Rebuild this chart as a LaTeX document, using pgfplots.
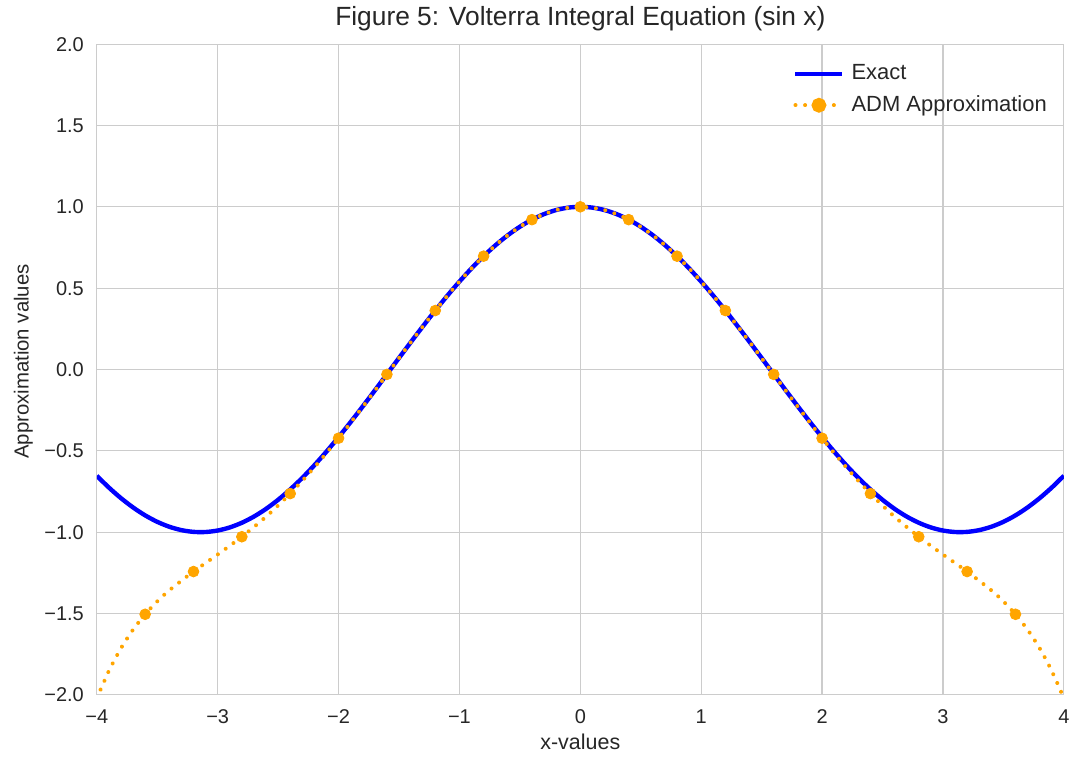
\documentclass[border=0pt]{standalone}
\usepackage{pgfplots}
\pgfplotsset{compat=1.18}
\usepackage{fontspec}
\setmainfont{Liberation Sans}
\definecolor{txt}{HTML}{262626}
\definecolor{gridc}{HTML}{CCCCCC}
\definecolor{admorange}{HTML}{FFA500}
\pgfplotsset{
  exactleg/.style={legend image code/.code={\draw[##1] (-3bp,0bp) -- (20.5bp,0bp);}},
  admleg/.style={legend image code/.code={\draw[mark repeat=2, mark phase=2, ##1] plot coordinates {(-3bp,0bp) (8.75bp,0bp) (20.5bp,0bp)};}},
}
\begin{document}
\begin{tikzpicture}[x=1bp,y=1bp]
\begin{axis}[
  scale only axis,
  width=484.5bp, height=326bp,
  xmin=-4, xmax=4, ymin=-2, ymax=2,
  xtick={-4,-3,-2,-1,0,1,2,3,4},
  xticklabels={−4,−3,−2,−1,0,1,2,3,4},
  ytick={-2,-1.5,-1,-0.5,0,0.5,1,1.5,2},
  yticklabels={−2.0,−1.5,−1.0,−0.5,0.0,0.5,1.0,1.5,2.0},
  tick style={draw=none},
  major tick length=0pt,
  grid=major,
  grid style={gridc, line width=0.6bp},
  axis line style={gridc, line width=0.6bp},
  tick label style={font=\fontsize{10bp}{12bp}\selectfont, text=txt},
  xticklabel style={yshift=-4bp},
  yticklabel style={xshift=-3bp},
  xlabel={x-values},
  ylabel={Approximation values},
  xlabel style={font=\fontsize{10.75bp}{13bp}\selectfont, text=txt, yshift=2bp},
  ylabel style={font=\fontsize{10.2bp}{12bp}\selectfont, text=txt, xshift=4bp, yshift=-1bp},
  title={Figure 5: Volterra Integral Equation (sin x)},
  title style={font=\fontsize{13.2bp}{15bp}\selectfont, text=txt, yshift=-3bp},
  legend style={draw=none, fill=none, at={(0.99,0.975)}, anchor=north east,
    xshift=3bp, yshift=2bp,
    font=\fontsize{11bp}{13bp}\selectfont, text=txt, row sep=2.5bp,
    nodes={inner xsep=3.5bp}},
  legend cell align=left,
]
\addplot[blue, line width=2.2bp, smooth, exactleg] coordinates {
(-4.0,-0.6536)(-3.9,-0.7259)(-3.8,-0.7910)(-3.7,-0.8481)(-3.6,-0.8968)(-3.5,-0.9365)
(-3.4,-0.9668)(-3.3,-0.9875)(-3.2,-0.9983)(-3.1,-0.9991)(-3.0,-0.9900)(-2.9,-0.9710)
(-2.8,-0.9422)(-2.7,-0.9041)(-2.6,-0.8569)(-2.5,-0.8011)(-2.4,-0.7374)(-2.3,-0.6663)
(-2.2,-0.5885)(-2.1,-0.5048)(-2.0,-0.4161)(-1.9,-0.3233)(-1.8,-0.2272)(-1.7,-0.1288)
(-1.6,-0.0292)(-1.5,0.0707)(-1.4,0.1700)(-1.3,0.2675)(-1.2,0.3624)(-1.1,0.4536)
(-1.0,0.5403)(-0.9,0.6216)(-0.8,0.6967)(-0.7,0.7648)(-0.6,0.8253)(-0.5,0.8776)
(-0.4,0.9211)(-0.3,0.9553)(-0.2,0.9801)(-0.1,0.9950)(0.0,1.0000)
(0.1,0.9950)(0.2,0.9801)(0.3,0.9553)(0.4,0.9211)(0.5,0.8776)(0.6,0.8253)
(0.7,0.7648)(0.8,0.6967)(0.9,0.6216)(1.0,0.5403)(1.1,0.4536)(1.2,0.3624)
(1.3,0.2675)(1.4,0.1700)(1.5,0.0707)(1.6,-0.0292)(1.7,-0.1288)(1.8,-0.2272)
(1.9,-0.3233)(2.0,-0.4161)(2.1,-0.5048)(2.2,-0.5885)(2.3,-0.6663)(2.4,-0.7374)
(2.5,-0.8011)(2.6,-0.8569)(2.7,-0.9041)(2.8,-0.9422)(2.9,-0.9710)(3.0,-0.9900)
(3.1,-0.9991)(3.2,-0.9983)(3.3,-0.9875)(3.4,-0.9668)(3.5,-0.9365)(3.6,-0.8968)
(3.7,-0.8481)(3.8,-0.7910)(3.9,-0.7259)(4.0,-0.6536)
};
\addlegendentry{Exact}
\addplot[admorange, line width=2bp, line cap=round, dash pattern=on 0.01bp off 4.8bp, smooth, forget plot] coordinates {
(-4.0,-2.0222)(-3.9,-1.8528)(-3.8,-1.7138)(-3.7,-1.5995)(-3.6,-1.5049)(-3.5,-1.4255)
(-3.4,-1.3575)(-3.2,-1.2422)(-3.0,-1.1375)(-2.8,-1.0282)(-2.6,-0.9050)(-2.4,-0.7630)
(-2.2,-0.6014)(-2.0,-0.4222)(-1.8,-0.2298)(-1.6,-0.0302)(-1.4,0.1696)(-1.2,0.3623)
(-1.0,0.5403)(-0.8,0.6967)(-0.6,0.8253)(-0.4,0.9211)(-0.2,0.9801)(0.0,1.0000)
(0.2,0.9801)(0.4,0.9211)(0.6,0.8253)(0.8,0.6967)(1.0,0.5403)(1.2,0.3623)
(1.4,0.1696)(1.6,-0.0302)(1.8,-0.2298)(2.0,-0.4222)(2.2,-0.6014)(2.4,-0.7630)
(2.6,-0.9050)(2.8,-1.0282)(3.0,-1.1375)(3.2,-1.2422)(3.4,-1.3575)(3.5,-1.4255)
(3.6,-1.5049)(3.7,-1.5995)(3.8,-1.7138)(3.9,-1.8528)(4.0,-2.0222)
};
\addplot[admorange, only marks, mark=*, mark size=2.7bp, mark options={draw=admorange, fill=admorange}, forget plot] coordinates {
(-3.6,-1.5049)(-3.2,-1.2422)(-2.8,-1.0282)(-2.4,-0.7630)(-2.0,-0.4222)(-1.6,-0.0302)
(-1.2,0.3623)(-0.8,0.6967)(-0.4,0.9211)(0.0,1.0000)(0.4,0.9211)(0.8,0.6967)
(1.2,0.3623)(1.6,-0.0302)(2.0,-0.4222)(2.4,-0.7630)(2.8,-1.0282)(3.2,-1.2422)(3.6,-1.5049)
};
\addlegendimage{admorange, line width=2bp, line cap=round, dash pattern=on 0.01bp off 4.8bp,
  mark=*, mark size=2.7bp, mark options={solid, fill=admorange}, admleg}
\addlegendentry{ADM Approximation}
\end{axis}
\path (current axis.south west) ++(-48.5bp,-31bp) coordinate (bl);
\path (current axis.north east) ++(5bp,21bp) coordinate (tr);
\useasboundingbox (bl) rectangle (tr);
\end{tikzpicture}
\end{document}
